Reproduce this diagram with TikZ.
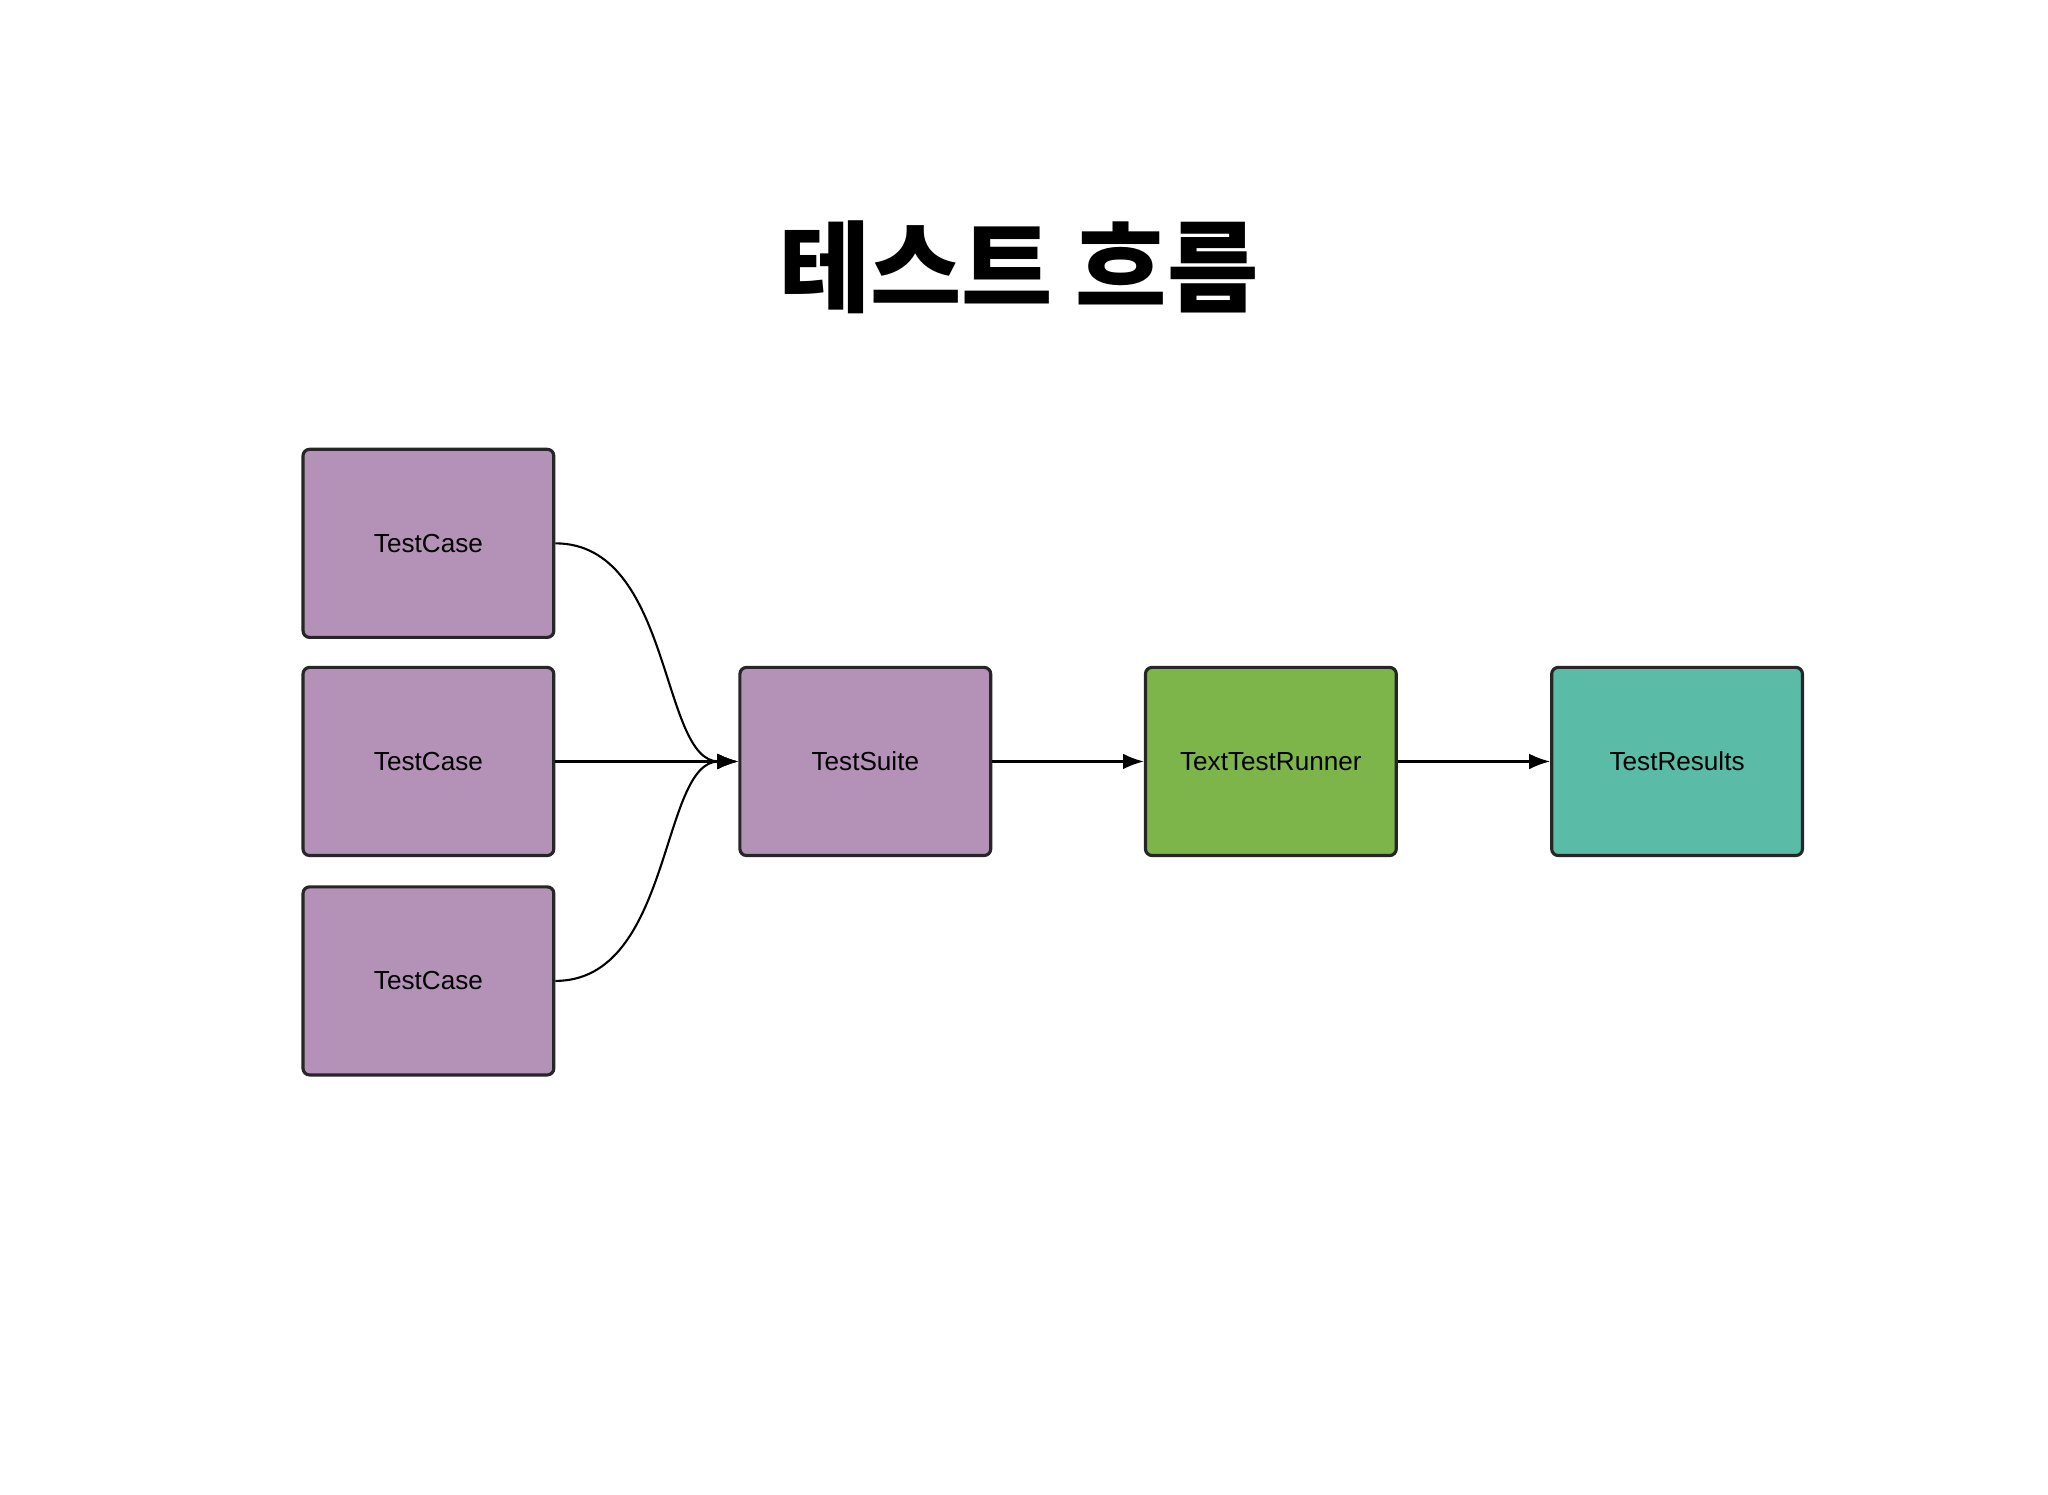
\documentclass[tikz,border=0pt]{standalone}
\usepackage{fontspec}
\setmainfont{Liberation Sans}
\newfontfamily\cjk{Noto Sans CJK KR}
\usetikzlibrary{arrows.meta}
\definecolor{purp}{HTML}{B492B7}
\definecolor{grn}{HTML}{7DB54B}
\definecolor{teal2}{HTML}{5ABBA6}
\begin{document}
\begin{tikzpicture}[x=0.5pt,y=-0.5pt,
 box/.style={draw=black!85,line width=1.2pt,rounded corners=2.5pt,minimum width=96pt,minimum height=72pt,inner sep=0pt,font=\fontsize{10}{12}\selectfont},
 conn/.style={line width=0.8pt,-{Latex[length=8pt,width=6pt]}}]
\useasboundingbox (0,0) rectangle (1568,1144);
\node[font=\cjk\bfseries\fontsize{38}{44}\selectfont] (title) at (780,205) {테스트 흐름};
\node[box,fill=purp] (c1) at (328,416) {TestCase};
\node[box,fill=purp] (c2) at (328,583) {TestCase};
\node[box,fill=purp] (c3) at (328,751) {TestCase};
\node[box,fill=purp] (s) at (662.5,583) {TestSuite};
\node[box,fill=grn] (r) at (973,583) {TextTestRunner};
\node[box,fill=teal2] (t) at (1284,583) {TestResults};
\draw[conn] (c1.east) .. controls +(90,0) and +(-60,0) .. (s.west);
\draw[conn] (c2.east) -- (s.west);
\draw[conn] (c3.east) .. controls +(90,0) and +(-60,0) .. (s.west);
\draw[conn] (s) -- (r);
\draw[conn] (r) -- (t);
\end{tikzpicture}
\end{document}
